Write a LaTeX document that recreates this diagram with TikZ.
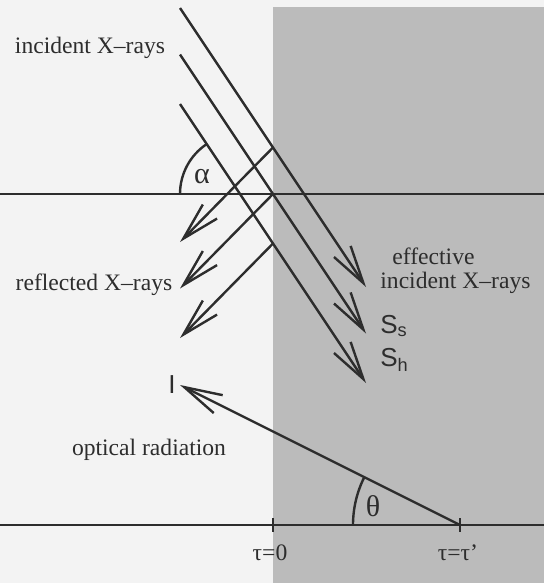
\documentclass[tikz,border=0pt]{standalone}
\usepackage{fontspec}
\setmainfont{Liberation Serif}
\newfontfamily\labelsans{Liberation Sans}
\usepackage{tikz}
\usetikzlibrary{arrows.meta}

\definecolor{paper}{RGB}{243,243,243}
\definecolor{slab}{RGB}{187,187,187}
\definecolor{ink}{RGB}{45,45,45}

\begin{document}
\begin{tikzpicture}[
    x=0.5pt, y=0.5pt,
    ray/.style={draw=ink, line width=1.2pt},
    arr/.style={ray, -{Straight Barb[length=19pt, width=10pt]}},
    txt/.style={text=ink, inner sep=0pt, font=\fontsize{11.8}{12}\selectfont},
    greek/.style={text=ink, inner sep=0pt, font=\fontsize{15}{15}\selectfont},
    sym/.style={text=ink, inner sep=0pt, font=\labelsans\fontsize{13}{13}\selectfont}
]

% Paper and medium
\useasboundingbox (0,0) rectangle (544,-583);
\fill[paper] (0,0) rectangle (544,-583);
\fill[slab] (273,-7) rectangle (544,-583);

% Surface and depth axis
\draw[ray] (0,-194) -- (544,-194);
\draw[ray] (0,-525) -- (544,-525);
\draw[ray] (273,-518) -- (273,-532);
\draw[ray] (460,-518) -- (460,-532);

% Incident and reflected rays
\foreach \i/\y in {1/8, 2/54.5, 3/104} {
    \coordinate (in\i) at (180,-\y);
    \coordinate (hit\i) at (273,-\y-139.5);
    \coordinate (eff\i) at (366,-\y-279);
    \coordinate (ref\i) at (180,-\y-234);
}
\foreach \i in {1,2,3} {
    \draw[arr] (in\i) -- (eff\i);
    \draw[arr] (hit\i) -- (ref\i);
}

% Optical radiation
\coordinate (emit) at (460,-525);
\coordinate (exit) at (180,-385);
\draw[arr] (emit) -- (exit);

% Angles
\draw[ray] (180,-194) arc[start angle=180, end angle=123.7, radius=30pt];
\draw[ray] (353,-525) arc[start angle=180, end angle=153.43, radius=53.5pt];

% Labels
\node[txt] (lincident) at (90,-48) {incident X--rays};
\node[txt, anchor=west, align=left] (leffective) at (380,-271) {\hspace*{6pt}effective\\incident X--rays};
\node[txt] (lreflected) at (94,-285) {reflected X--rays};
\node[txt] (loptical) at (149,-450) {optical radiation};
\node[greek] (lalpha) at (202,-177) {α};
\node[greek] (ltheta) at (373,-506) {θ};
\node[txt] (ltauzero) at (270,-553) {τ=0};
\node[txt] (ltaumax) at (458,-553) {τ=τ'};
\node[sym, anchor=west] (lss) at (380,-326) {S\textsubscript{s}};
\node[sym, anchor=west] (lsh) at (380,-360) {S\textsubscript{h}};
\node[sym] (lint) at (172,-385) {I};

\end{tikzpicture}
\end{document}
